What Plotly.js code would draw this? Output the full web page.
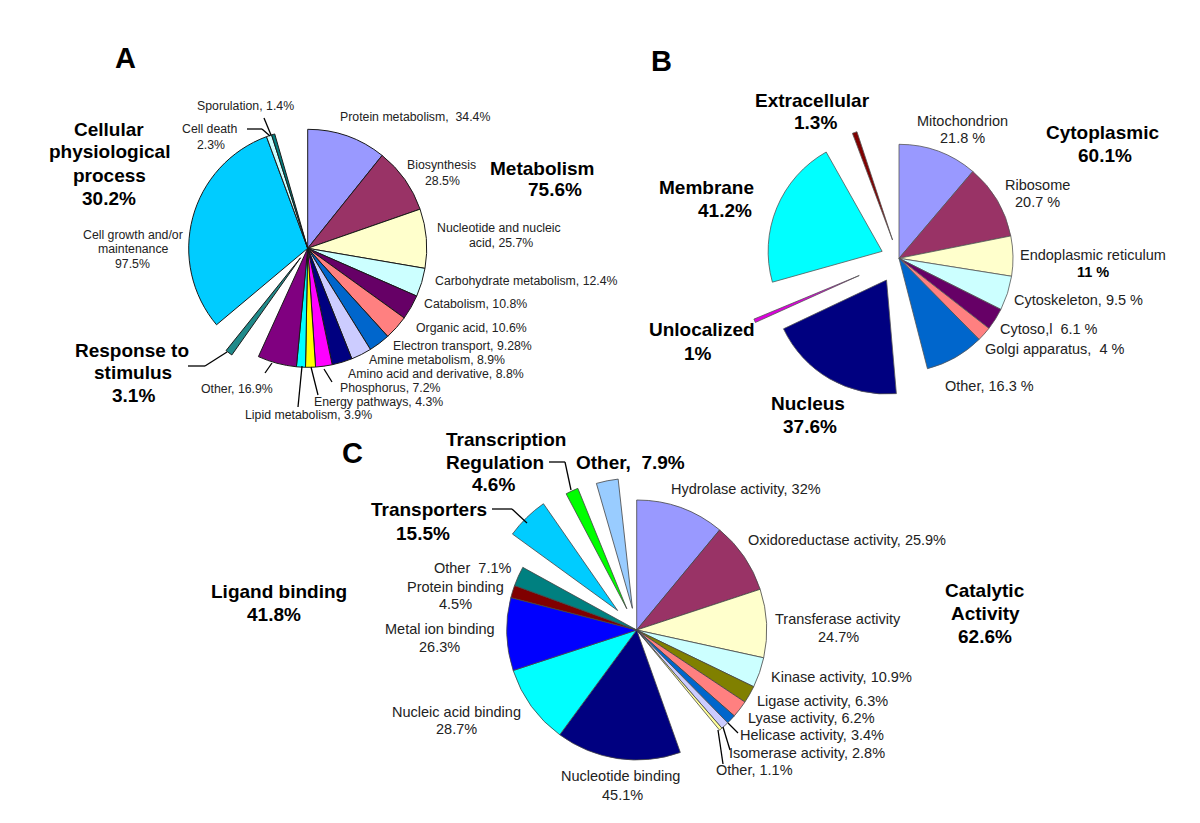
<!DOCTYPE html>
<html><head><meta charset="utf-8">
<script src="https://cdn.plot.ly/plotly-3.0.1.min.js"></script>
<style>html,body{margin:0;padding:0;background:#fff;} #chart{width:1200px;height:823px;}</style>
</head><body><div id="chart"></div>
<script>
// ---------- Panel A : biological process ----------
const metabolismLabels = ['Protein metabolism','Biosynthesis','Nucleotide and nucleic acid','Carbohydrate metabolism','Catabolism','Organic acid','Electron transport','Amine metabolism','Amino acid and derivative','Phosphorus','Energy pathways','Lipid metabolism','Other (metabolism)'];
const metabolismValues = [34.4, 28.5, 25.7, 12.4, 10.8, 10.6, 9.28, 8.9, 8.8, 7.2, 4.3, 3.9, 16.9];
const metabolismColors = ['#9999FF','#993366','#FFFFCC','#CCFFFF','#660066','#FF8080','#0066CC','#CCCCFF','#000080','#FF00FF','#FFFF00','#00FFFF','#800080'];
const responseLabels = ['Response to stimulus'];
const responseValues = [3.1];
const cellularLabels = ['Cell growth and/or maintenance','Cell death','Sporulation'];
const cellularValues = [97.5, 2.3, 1.4];
const cellularColors = ['#00CCFF','#CCFFFF','#008080'];
const gapsA = [9.6, 10.0, 14.3];

// ---------- Panel B : cellular component ----------
const cytoplasmicLabels = ['Mitochondrion','Ribosome','Endoplasmic reticulum','Cytoskeleton','Cytosol','Golgi apparatus','Other (cytoplasmic)'];
const cytoplasmicValues = [21.8, 20.7, 11, 9.5, 6.1, 4, 16.3];
const cytoplasmicColors = ['#9999FF','#993366','#FFFFCC','#CCFFFF','#660066','#FF8080','#0066CC'];
const nucleusValues = [37.6];
const unlocalizedValues = [1];
const membraneValues = [41.2];
const extracellularValues = [1.3];
const gapsB = [5.13, 0.54, 3.67, 4.75, 9.83];

// ---------- Panel C : molecular function ----------
const catalyticLabels = ['Hydrolase activity','Oxidoreductase activity','Transferase activity','Kinase activity','Ligase activity','Lyase activity','Helicase activity','Isomerase activity','Other (catalytic)'];
const catalyticValues = [32, 25.9, 24.7, 10.9, 6.3, 6.2, 3.4, 2.8, 1.1];
const catalyticColors = ['#9999FF','#993366','#FFFFCC','#CCFFFF','#808000','#FF8080','#0066CC','#CCCCFF','#FFFF99'];
const ligandLabels = ['Nucleotide binding','Nucleic acid binding','Metal ion binding','Protein binding','Other (ligand binding)'];
const ligandValues = [45.1, 28.7, 26.3, 4.5, 7.1];
const ligandColors = ['#000080','#00FFFF','#0000FF','#800000','#008080'];
const transporterValues = [15.5];
const transcriptionValues = [4.6];
const otherFunctionValues = [7.9];
const gapsC = [16.14, 5.81, 5.61, 4.88, 5.08];

const W = 1200, H = 823;
const CLEAR = 'rgba(0,0,0,0)';
let gapCount = 0;
function gap(v){ gapCount++; return {labels:['gap '+gapCount], values:[v], colors:[CLEAR], pull:0, hidden:true}; }
function seg(labels, values, colors, pull){ return {labels, values, colors, pull: pull||0}; }

function pieTrace(segs, cx, cy, r, lineColor, lineWidth){
  const labels=[], values=[], colors=[], pulls=[], lw=[], lc=[];
  segs.forEach(s => s.labels.forEach((l,i) => {
    labels.push(l); values.push(s.values[i]); colors.push(s.colors[i]);
    pulls.push(s.pull); lw.push(s.hidden ? 0 : lineWidth); lc.push(s.hidden ? CLEAR : lineColor);
  }));
  const maxPull = Math.max.apply(null, pulls);
  const half = r * (1 + maxPull);
  return {
    type:'pie', labels, values, sort:false, direction:'clockwise', rotation:0,
    pull:pulls, textinfo:'none', textposition:'none', hoverinfo:'label+value',
    marker:{colors, line:{color:lc, width:lw}}, showlegend:false,
    domain:{x:[(cx-half)/W, (cx+half)/W], y:[1-(cy+half)/H, 1-(cy-half)/H]}
  };
}

const traceA = pieTrace([
  seg(metabolismLabels, metabolismValues, metabolismColors),
  gap(gapsA[0]),
  seg(responseLabels, responseValues, ['#1F8A8A'], 0.1),
  gap(gapsA[1]),
  seg(cellularLabels, cellularValues, cellularColors),
  gap(gapsA[2])
], 307.7, 248.3, 119, '#1a1a1a', 1);

const traceB = pieTrace([
  seg(cytoplasmicLabels, cytoplasmicValues, cytoplasmicColors),
  gap(gapsB[0]),
  seg(['Nucleus'], nucleusValues, ['#000080'], 0.22),
  gap(gapsB[1]),
  seg(['Unlocalized'], unlocalizedValues, ['#DD00DD'], 0.38),
  gap(gapsB[2]),
  seg(['Membrane'], membraneValues, ['#00FFFF'], 0.16),
  gap(gapsB[3]),
  seg(['Extracellular'], extracellularValues, ['#800000'], 0.17),
  gap(gapsB[4])
], 899, 258.3, 114, '#555555', 0.8);

const traceC = pieTrace([
  seg(catalyticLabels, catalyticValues, catalyticColors),
  gap(gapsC[0]),
  seg(ligandLabels, ligandValues, ligandColors),
  gap(gapsC[1]),
  seg(['Transporters'], transporterValues, ['#00CCFF'], 0.21),
  gap(gapsC[2]),
  seg(['Transcription Regulation'], transcriptionValues, ['#00FF00'], 0.18),
  gap(gapsC[3]),
  seg(['Other (function)'], otherFunctionValues, ['#99CCFF'], 0.17),
  gap(gapsC[4])
], 636.7, 630, 130, '#444444', 0.8);

// ---------- text labels: [text, x px, y px, size, bold] ----------
const FONT = 'Liberation Sans, Arial, Helvetica, sans-serif';
const S = 12.3;
const textSpecs = [
  ['A',125,58,29,1], ['B',661,61,29,1], ['C',352,453,29,1],
  // Panel A
  ['Sporulation, 1.4%',246,106,S,0], ['Cell death',210,129,S,0], ['2.3%',211,145,S,0],
  ['Cellular',109,129,19,1], ['physiological',109,152,19,1], ['process',109,175,19,1], ['30.2%',109,198,19,1],
  ['Cell growth and/or',133,235,S,0], ['maintenance',133,249,S,0], ['97.5%',132,264,S,0],
  ['Response to',132,350,19,1], ['stimulus',133,372,19,1], ['3.1%',133,395,19,1],
  ['Other, 16.9%',237,389,S,0], ['Lipid metabolism, 3.9%',308,415,S,0], ['Energy pathways, 4.3%',378,402,S,0],
  ['Phosphorus, 7.2%',391,388,S,0], ['Amino acid and derivative, 8.8%',436,374,S,0], ['Amine metabolism, 8.9%',437,360,S,0],
  ['Electron transport, 9.28%',462,346,S,0], ['Organic acid, 10.6%',471,328,S,0], ['Catabolism, 10.8%',475,304,S,0],
  ['Carbohydrate metabolism, 12.4%',526,281,S,0], ['Nucleotide and nucleic',499,228,S,0], ['acid, 25.7%',501,243,S,0],
  ['Biosynthesis',441,165,S,0], ['28.5%',442,181,S,0], ['Protein metabolism,  34.4%',415,117,S,0],
  ['Metabolism',542,168,19,1], ['75.6%',555,190,19,1],
  // Panel B
  ['Extracellular',812,100,19,1], ['1.3%',815,123,19,1], ['Membrane',706,187,19,1], ['41.2%',725,211,19,1],
  ['Unlocalized',702,330,19,1], ['1%',698,353,19,1], ['Nucleus',808,403,19,1], ['37.6%',810,426,19,1],
  ['Mitochondrion',962,121,14.5,0], ['21.8 %',962,138,14.5,0], ['Cytoplasmic',1102,132,19,1], ['60.1%',1105,155,19,1],
  ['Ribosome',1037,185,14.5,0], ['20.7 %',1037,202,14.5,0], ['Endoplasmic reticulum',1093,255,14.5,0], ['11 %',1093,272,14.5,1],
  ['Cytoskeleton, 9.5 %',1078,300,14.5,0], ['Cytoso,l  6.1 %',1049,329,14.5,0], ['Golgi apparatus,  4 %',1055,349,14.5,0],
  ['Other, 16.3 %',989,386,14.5,0],
  // Panel C
  ['Transcription',506,439,19,1], ['Regulation',495,462,19,1], ['4.6%',493,484,19,1], ['Other,  7.9%',630,462,19,1],
  ['Transporters',429,509,19,1], ['15.5%',423,533,19,1], ['Ligand binding',279,591,19,1], ['41.8%',274,614,19,1],
  ['Other  7.1%',472,568,14.5,0], ['Protein binding',455,587,14.5,0], ['4.5%',455,604,14.5,0],
  ['Metal ion binding',440,629,14.5,0], ['26.3%',440,647,14.5,0], ['Nucleic acid binding',456,712,14.5,0], ['28.7%',456,729,14.5,0],
  ['Nucleotide binding',620,776,14.5,0], ['45.1%',622,795,14.5,0],
  ['Hydrolase activity, 32%',746,489,14.5,0], ['Oxidoreductase activity, 25.9%',847,540,14.5,0],
  ['Transferase activity',838,619,14.5,0], ['24.7%',838,637,14.5,0], ['Kinase activity, 10.9%',841,677,14.5,0],
  ['Ligase activity, 6.3%',822,701,14.5,0], ['Lyase activity, 6.2%',811,718,14.5,0], ['Helicase activity, 3.4%',812,735,14.5,0],
  ['Isomerase activity, 2.8%',807,753,14.5,0], ['Other, 1.1%',754,770,14.5,0],
  ['Catalytic',985,590,19,1], ['Activity',985,613,19,1], ['62.6%',985,636,19,1]
];
const annotations = textSpecs.map(s => ({
  text: s[4] ? '<b>'+s[0]+'</b>' : s[0], x: s[1]/W, y: 1 - s[2]/H, xref:'paper', yref:'paper',
  showarrow:false, xanchor:'center', yanchor:'middle',
  font:{family:FONT, size:s[3], color: s[4] ? '#000' : '#222'}
}));

// leader lines (pixel polylines)
const leaders = [
  [[264,118],[271,135]], [[247,129],[262,129],[270,136]], [[188,366],[205,366],[227,352]],
  [[265,373],[272,363]], [[298,407],[302,366]], [[318,395],[311,367]], [[332,382],[324,369]],
  [[549,462],[565,462],[571,490]], [[492,509],[512,509],[527,523]],
  [[738,733],[728,723]], [[730,750],[723,727]], [[723,764],[718,730]]
];
const shapes = [];
leaders.forEach(pts => { for(let i=0;i<pts.length-1;i++){ shapes.push({type:'line', xref:'paper', yref:'paper',
  x0:pts[i][0]/W, y0:1-pts[i][1]/H, x1:pts[i+1][0]/W, y1:1-pts[i+1][1]/H, line:{color:'#000', width:1.3}}); } });

Plotly.newPlot('chart', [traceA, traceB, traceC], {
  width:W, height:H, margin:{l:0,r:0,t:0,b:0}, paper_bgcolor:'#fff', plot_bgcolor:'#fff',
  annotations, shapes, showlegend:false
}, {displayModeBar:false, staticPlot:true});
</script></body></html>
